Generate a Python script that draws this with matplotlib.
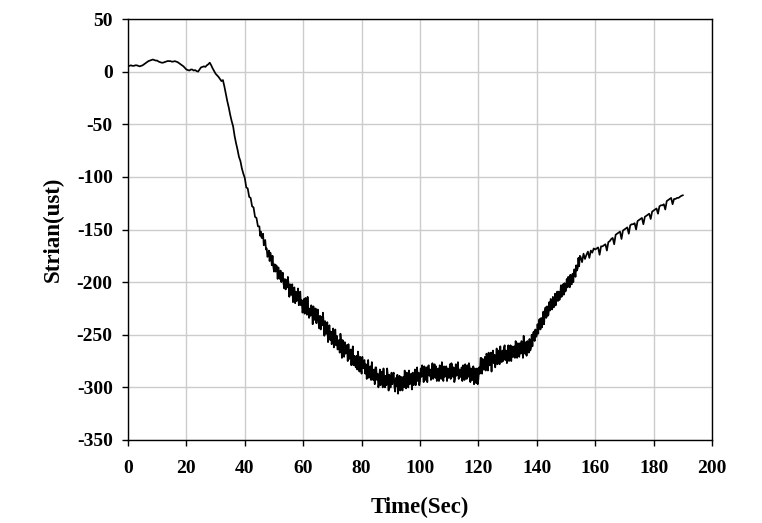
import numpy as np
import matplotlib
matplotlib.use("Agg")
import matplotlib.pyplot as plt

# Strain readings.
# Segment A: 0 - 44.5 s, every 0.5 s
strain_a = [
    5.0, 5.5, 6.0, 5.5, 5.5, 6.0, 6.0, 5.5, 5.0, 5.5,
    6.0, 7.0, 8.0, 9.0, 10.0, 10.5, 11.0, 11.5, 11.0, 10.5,
    10.5, 9.5, 9.0, 8.5, 8.5, 9.0, 9.5, 10.0, 10.0, 10.0,
    9.5, 9.5, 10.0, 9.5, 9.0, 8.0, 7.0, 6.0, 5.0, 3.5,
    2.0, 1.5, 1.0, 2.0, 2.0, 1.0, 1.5, 0.5, 0.0, 2.0,
    4.0, 4.5, 5.0, 4.5, 6.0, 7.0, 8.5, 6.0, 3.0, 0.5,
    -2.0, -3.5, -5.0, -7.0, -9.0, -8.0, -14.0, -21.0, -28.0, -34.0,
    -41, -47, -52, -61, -68, -74, -81, -85, -92, -97,
    -101, -110, -111, -119, -120, -128, -129, -138, -139, -147,
]
time_a = np.arange(0, 45, 0.5)

# Segment B: 45 - 154.75 s, every 0.25 s (noisy part)
strain_b = [
    -147, -156, -152, -158,
    -158, -154, -165, -161,
    -160, -169, -168, -176,
    -175, -170, -180, -172,
    -176, -184, -175, -185,
    -190, -183, -190, -184,
    -185, -197, -186, -194,
    -197, -189, -200, -195,
    -191, -201, -206, -197,
    -207, -198, -205, -195,
    -203, -214, -202, -212,
    -212, -202, -219, -206,
    -205, -220, -209, -218,
    -216, -206, -222, -212,
    -209, -222, -217, -229,
    -226, -216, -230, -215,
    -220, -231, -214, -228,
    -234, -225, -232, -222,
    -224, -240, -223, -233,
    -236, -225, -239, -231,
    -226, -239, -244, -232,
    -245, -233, -241, -229,
    -239, -251, -237, -249,
    -249, -238, -257, -243,
    -241, -255, -247, -259,
    -254, -244, -262, -248,
    -245, -260, -251, -264,
    -263, -255, -267, -249,
    -256, -272, -255, -265,
    -271, -257, -268, -260,
    -260, -275, -259, -273,
    -272, -264, -279, -267,
    -261, -279, -270, -278,
    -281, -270, -283, -266,
    -273, -285, -271, -281,
    -287, -271, -282, -275,
    -274, -287, -278, -292,
    -286, -274, -291, -282,
    -280, -293, -276, -292,
    -293, -283, -297, -281,
    -281, -293, -287, -300,
    -295, -283, -298, -286,
    -285, -300, -282, -294,
    -300, -289, -298, -282,
    -289, -303, -288, -300,
    -300, -286, -297, -288,
    -286, -300, -304, -291,
    -299, -288, -306, -292,
    -289, -303, -290, -298,
    -303, -290, -300, -284,
    -291, -301, -286, -299,
    -300, -284, -297, -291,
    -287, -302, -286, -298,
    -294, -283, -298, -285,
    -281, -294, -286, -298,
    -294, -282, -290, -279,
    -284, -295, -280, -291,
    -293, -281, -295, -280,
    -279, -289, -283, -293,
    -288, -277, -292, -281,
    -278, -291, -280, -294,
    -291, -282, -294, -279,
    -283, -292, -276, -288,
    -294, -280, -290, -281,
    -280, -294, -282, -291,
    -289, -278, -292, -277,
    -279, -290, -281, -295,
    -292, -278, -289, -281,
    -276, -292, -283, -290,
    -290, -281, -294, -279,
    -282, -293, -278, -289,
    -292, -279, -290, -277,
    -281, -295, -282, -293,
    -293, -280, -297, -282,
    -284, -296, -282, -297,
    -292, -281, -287, -272,
    -272, -287, -273, -283,
    -283, -271, -284, -268,
    -270, -284, -267, -279,
    -279, -267, -285, -268,
    -265, -277, -269, -281,
    -275, -263, -278, -267,
    -265, -278, -261, -274,
    -276, -265, -275, -262,
    -260, -274, -265, -277,
    -272, -260, -275, -263,
    -260, -275, -261, -271,
    -271, -261, -272, -256,
    -261, -272, -258, -270,
    -271, -258, -268, -256,
    -258, -272, -251, -267,
    -268, -257, -270, -256,
    -257, -267, -254, -265,
    -263, -250, -261, -248,
    -247, -256, -245, -252,
    -251, -240, -249, -236,
    -235, -245, -234, -243,
    -239, -228, -240, -227,
    -224, -234, -223, -232,
    -231, -219, -227, -216,
    -217, -226, -214, -224,
    -223, -211, -222, -211,
    -209, -218, -209, -217,
    -214, -203, -214, -203,
    -202, -212, -201, -209,
    -208, -197, -205, -195,
    -196, -205, -193, -202,
    -202, -192, -200, -188,
    -188, -195, -184, -189,
    -187, -177, -185, -175,
]
time_b = np.arange(45, 155, 0.25)

# Segment C: 155 - 190 s, every 0.5 s (saw-tooth part)
strain_c = [
    -176, -181, -173, -178, -174, -171, -177, -170, -172, -168,
    -169, -168, -167, -174, -166, -166, -165, -164, -170, -162,
    -161, -159, -158, -164, -155, -154, -153, -152, -159, -151,
    -150, -149, -148, -154, -146, -145, -145, -144, -150, -142,
    -141, -140, -139, -145, -138, -137, -136, -135, -140, -133,
    -132, -131, -130, -135, -128, -127, -127, -126, -131, -123,
    -122, -121, -120, -126, -121, -121, -120, -120, -119, -118,
    -117.5,
]
time_c = np.arange(155, 190.01, 0.5)

time = np.concatenate([time_a, time_b, time_c])
strain = np.concatenate([strain_a, strain_b, strain_c])

x_ticks = [0, 20, 40, 60, 80, 100, 120, 140, 160, 180, 200]
y_ticks = [50, 0, -50, -100, -150, -200, -250, -300, -350]

plt.rcParams['font.family'] = ['Liberation Serif', 'DejaVu Serif']
plt.rcParams['font.weight'] = 'bold'
plt.rcParams['axes.unicode_minus'] = False

fig = plt.figure(figsize=(7.62, 5.23), dpi=100)
ax = fig.add_axes([128 / 762, 1 - 440 / 523, 584 / 762, 421 / 523])

ax.plot(time, strain, color='black', linewidth=1.25)

ax.set_xlim(0, 200)
ax.set_ylim(-350, 50)
ax.set_xticks(x_ticks)
ax.set_yticks(y_ticks)
ax.grid(True, color='#cccccc', linewidth=1.0)
ax.set_axisbelow(True)
ax.tick_params(direction='out', length=4, width=1, labelsize=14)
ax.tick_params(axis='y', pad=7)
ax.tick_params(axis='x', pad=10.5)
for lab in ax.get_xticklabels() + ax.get_yticklabels():
    lab.set_fontweight('bold')
for sp in ax.spines.values():
    sp.set_color('black')
    sp.set_linewidth(1.0)

ax.set_xlabel('Time(Sec)', fontsize=16.5, fontweight='bold', labelpad=14)
ax.set_ylabel('Strian(ust)', fontsize=16.5, fontweight='bold', labelpad=9)

fig.savefig('out.png', dpi=100)
